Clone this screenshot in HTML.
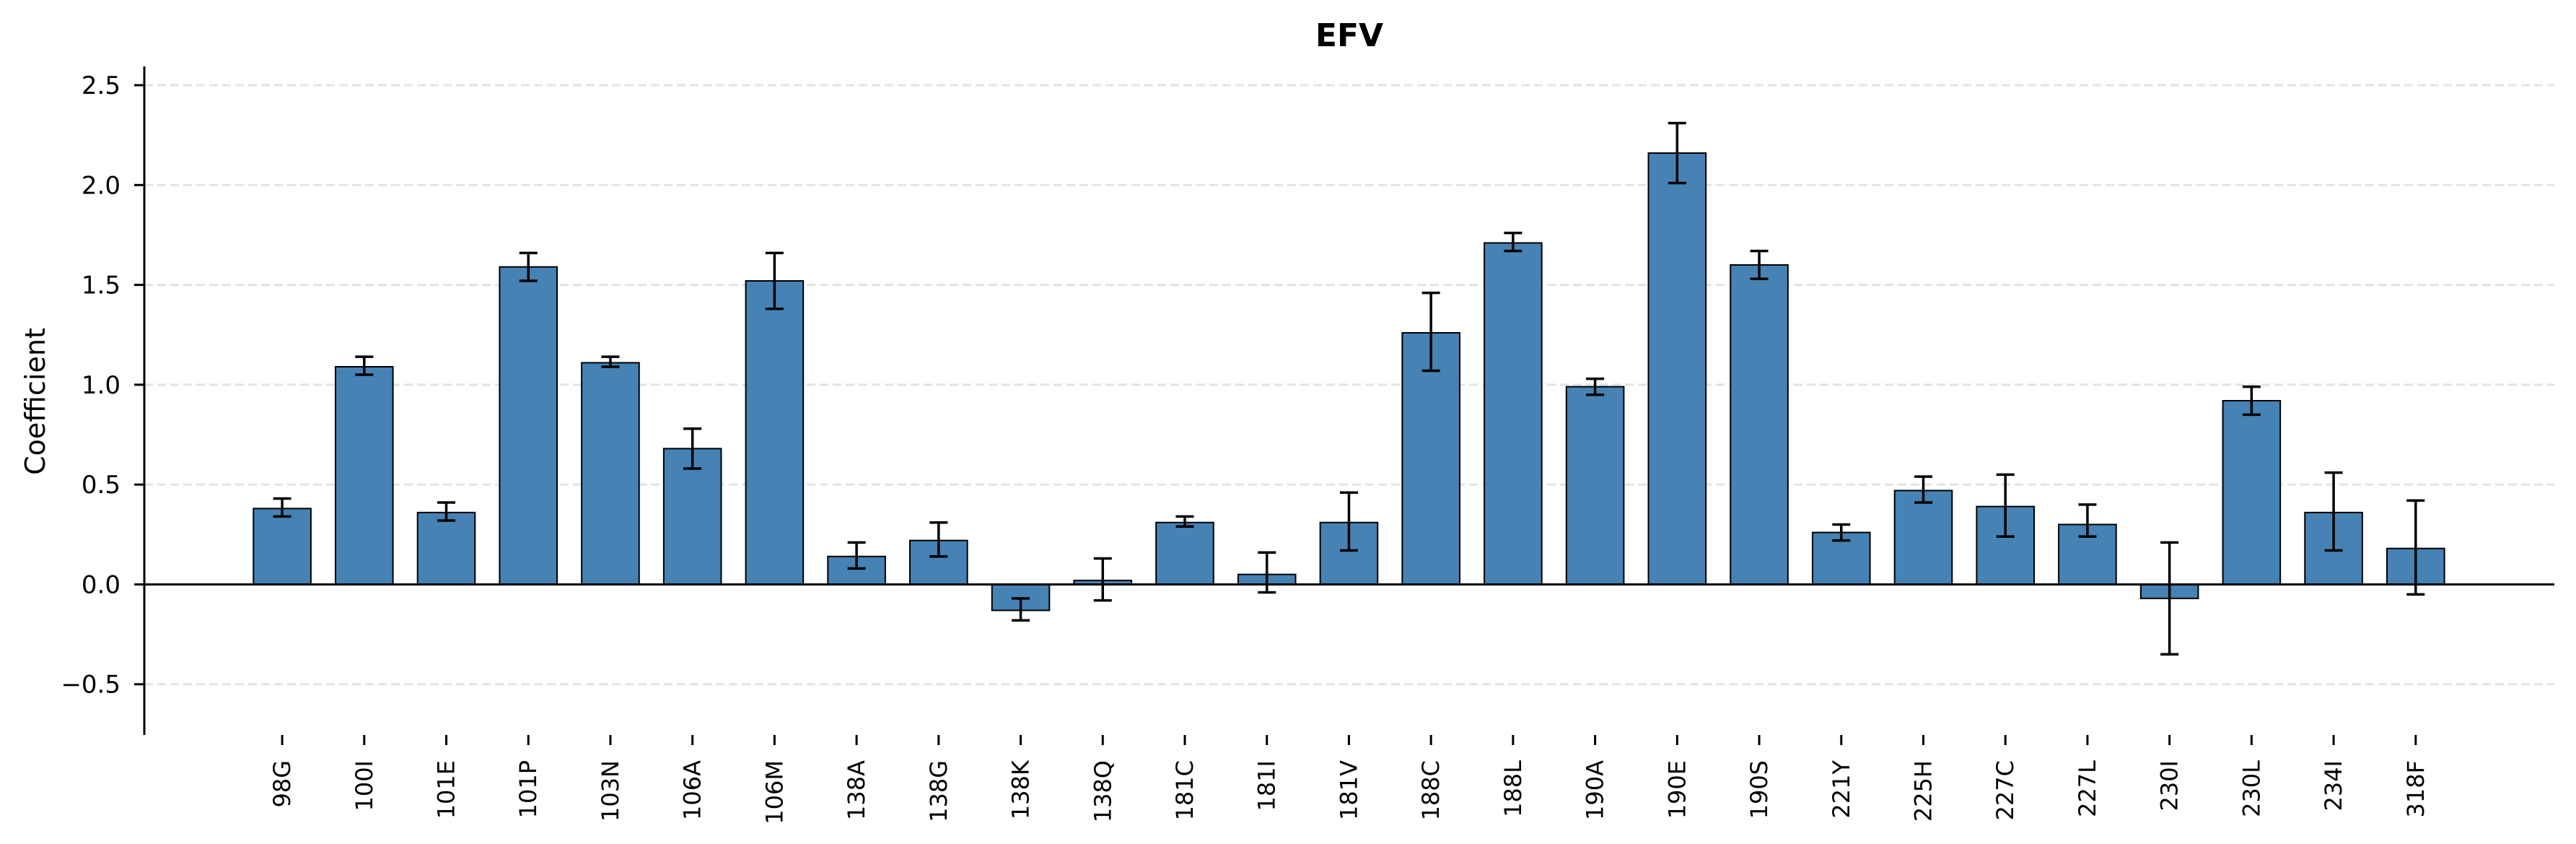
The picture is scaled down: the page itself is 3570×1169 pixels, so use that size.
<!DOCTYPE html>
<html><head><meta charset="utf-8"><style>
html,body{margin:0;padding:0;background:#fff;}
svg{display:block;font-family:"DejaVu Sans","Liberation Sans",sans-serif;}
</style></head><body>
<svg id="chart" width="3570" height="1169" viewBox="0 0 3570 1169" xmlns="http://www.w3.org/2000/svg">
<text x="1870" y="64" text-anchor="middle" font-size="44" font-weight="bold">EFV</text>
<text transform="translate(62,556) rotate(-90)" text-anchor="middle" font-size="38">Coefficient</text>
<g id="grid"></g><g id="bars"></g><g id="errs"></g><g id="axes"></g>
</svg>
<script>
const categories = ["98G","100I","101E","101P","103N","106A","106M","138A","138G","138K","138Q","181C","181I","181V","188C","188L","190A","190E","190S","221Y","225H","227C","227L","230I","230L","234I","318F"];
const values = [0.38,1.09,0.36,1.59,1.11,0.68,1.52,0.14,0.22,-0.13,0.02,0.31,0.05,0.31,1.26,1.71,0.99,2.16,1.60,0.26,0.47,0.39,0.30,-0.07,0.92,0.36,0.18];
const errLow = [0.34,1.05,0.32,1.52,1.09,0.58,1.38,0.08,0.14,-0.18,-0.08,0.29,-0.04,0.17,1.07,1.67,0.95,2.01,1.53,0.22,0.41,0.24,0.24,-0.35,0.85,0.17,-0.05];
const errHigh = [0.43,1.14,0.41,1.66,1.14,0.78,1.66,0.21,0.31,-0.07,0.13,0.34,0.16,0.46,1.46,1.76,1.03,2.31,1.67,0.30,0.54,0.55,0.40,0.21,0.99,0.56,0.42];
const yTicks = [-0.5,0.0,0.5,1.0,1.5,2.0,2.5];
const yTickLabels = ["\u22120.5","0.0","0.5","1.0","1.5","2.0","2.5"];

const NS="http://www.w3.org/2000/svg";
const X0=200, X1=3540, Y0=92, Y1=1018;
const yMin=-0.754, yMax=2.594;
const xMin=-1.68, xMax=categories.length-1+1.69;
function sx(i){return X0+(i-xMin)/(xMax-xMin)*(X1-X0);}
function sy(v){return Y1-(v-yMin)/(yMax-yMin)*(Y1-Y0);}
const step=sx(1)-sx(0), bw=step*0.7;
function mk(tag,attrs,parent){const e=document.createElementNS(NS,tag);for(const k in attrs)e.setAttribute(k,attrs[k]);document.getElementById(parent).appendChild(e);return e;}

yTicks.forEach((t,i)=>{
  const y=sy(t);
  const g=mk('line',{x1:X0,x2:X1,y1:y,y2:y,stroke:'#e3e3e3','stroke-width':3,'stroke-dasharray':'12,6'},'grid');
  
  
  const tk=mk('line',{x1:X0-14,x2:X0,y1:y,y2:y,stroke:'#000','stroke-width':3},'axes');
  
  
  const tx=mk('text',{x:X0-33,y:y+12,'text-anchor':'end','font-size':34},'axes');
  tx.textContent=yTickLabels[i];
  
  
});
categories.forEach((c,i)=>{
  const cx=sx(i), v=values[i];
  const top=sy(Math.max(v,0)), bot=sy(Math.min(v,0));
  const r=mk('rect',{x:cx-bw/2,y:top,width:bw,height:bot-top,fill:'#4682b4',stroke:'#000','stroke-width':2},'bars');
  
  
  const yl=sy(errLow[i]), yh=sy(errHigh[i]);
  const e1=mk('line',{x1:cx,x2:cx,y1:yl,y2:yh,stroke:'#000','stroke-width':3.5},'errs');
  
  
  [yl,yh].forEach(yy=>{
    const cap=mk('line',{x1:cx-12.5,x2:cx+12.5,y1:yy,y2:yy,stroke:'#000','stroke-width':3.5},'errs');
    
    
  });
  const tk=mk('line',{x1:cx,x2:cx,y1:1018,y2:1032,stroke:'#000','stroke-width':3},'axes');
  
  
  const tx=mk('text',{transform:'translate('+(cx+11)+',1053) rotate(-90)','text-anchor':'end','font-size':32},'axes');
  tx.textContent=c;
  
  
});
const ya=mk('line',{x1:X0,x2:X0,y1:Y0,y2:Y1,stroke:'#000','stroke-width':3},'axes');


const zl=mk('line',{x1:X0,x2:X1,y1:sy(0),y2:sy(0),stroke:'#000','stroke-width':3},'axes');


</script>
</body></html>
